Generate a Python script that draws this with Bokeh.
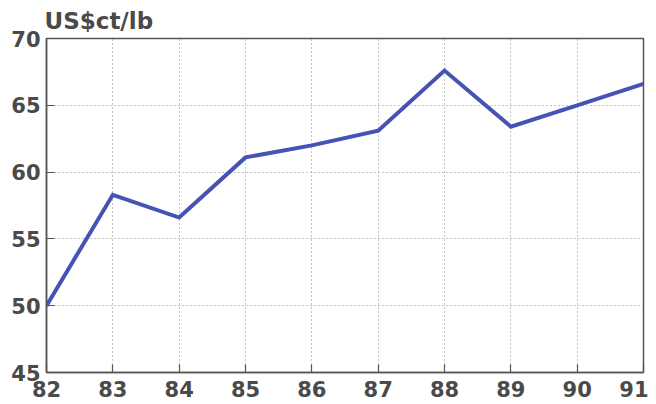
from bokeh.plotting import figure
from bokeh.models import Range1d, FixedTicker
from bokeh.embed import file_html
from bokeh.resources import INLINE

years = [82, 83, 84, 85, 86, 87, 88, 89, 90, 91]
price = [50.0, 58.3, 56.6, 61.1, 62.0, 63.1, 67.6, 63.4, 65.0, 66.6]
x_ticks = [82, 83, 84, 85, 86, 87, 88, 89, 90, 91]
y_ticks = [45, 50, 55, 60, 65, 70]
unit_label = "US$ct/lb"

FONT = "DejaVu Sans"
TXT = "#4a4a4a"

p = figure(width=648, height=402, output_backend="svg", toolbar_location=None,
           x_range=Range1d(82, 91), y_range=Range1d(45, 70),
           min_border_left=46, min_border_right=5, min_border_top=38, min_border_bottom=30)

p.title.text = unit_label
p.title.text_font = FONT
p.title.text_font_size = "23px"
p.title.text_font_style = "bold"
p.title.text_color = TXT
p.title.align = "left"
p.title.offset = -2
p.title.standoff = 10

p.line(years, price, line_color="#4652b4", line_width=4, line_join="miter")

for ax in (p.xaxis, p.yaxis):
    ax.major_tick_in = 8
    ax.major_tick_out = 0
    ax.minor_tick_line_color = None
    ax.axis_line_color = "#555555"
    ax.axis_line_width = 1.5
    ax.major_tick_line_color = "#555555"
    ax.major_tick_line_width = 1.2
    ax.major_label_text_font = FONT
    ax.major_label_text_font_size = "21px"
    ax.major_label_text_font_style = "bold"
    ax.major_label_text_color = TXT

p.xaxis.ticker = FixedTicker(ticks=x_ticks)
p.yaxis.ticker = FixedTicker(ticks=y_ticks)
p.xaxis.major_label_standoff = 8
p.yaxis.major_label_standoff = 6

p.xgrid.ticker = FixedTicker(ticks=x_ticks)
p.ygrid.ticker = FixedTicker(ticks=y_ticks)
for g in (p.xgrid, p.ygrid):
    g.grid_line_color = "#8a8a8a"
    g.grid_line_dash = "1 3"
    g.grid_line_width = 1

p.outline_line_color = "#555555"
p.outline_line_width = 1.5
p.background_fill_color = "white"
p.border_fill_color = "white"

open("out.html", "w").write(file_html(p, INLINE))
